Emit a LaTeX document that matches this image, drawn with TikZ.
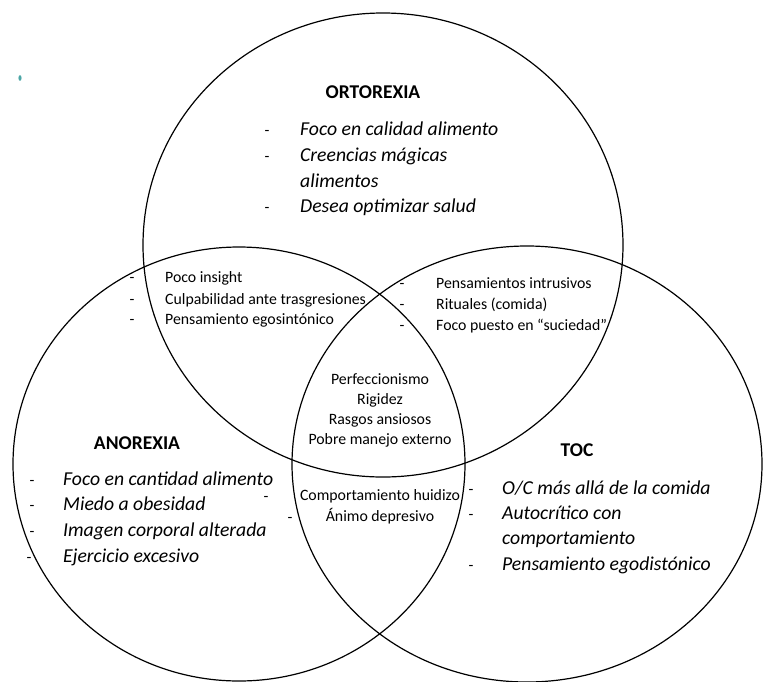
\documentclass[tikz,border=0pt]{standalone}
\usepackage{fontspec}
\setmainfont{Carlito}
\usetikzlibrary{shapes.geometric}
\begin{document}
\begin{tikzpicture}[x=1pt, y=-1pt,
    conjunto/.style={ellipse, draw, line width=1.2pt, inner sep=0pt},
    titulo/.style={font=\fontsize{19.5}{22}\selectfont\bfseries},
    rasgo/.style={anchor=west, inner sep=0pt, text height=1.5ex, text depth=.3ex, font=\fontsize{19.7}{22}\selectfont\itshape},
    comun/.style={anchor=west, inner sep=0pt, text height=1.5ex, text depth=.3ex, font=\fontsize{15.8}{18}\selectfont},
    guion/.style={inner sep=0pt, font=\fontsize{15.8}{18}\selectfont}]
    \useasboundingbox (0,0) rectangle (763,681);

    % Conjuntos
    \node[conjunto, minimum width=480pt, minimum height=464pt] (orto) at (383,245) {};
    \node[conjunto, minimum width=452pt, minimum height=434pt] (anor) at (239,464) {};
    \node[conjunto, minimum width=470pt, minimum height=436pt] (toc) at (527,464) {};

    % Mancha suelta
    \fill[teal!70] (20,78) ellipse [x radius=1.6pt, y radius=2.8pt];

    % Ortorexia
    \node[titulo] (tOrto) at (373,92) {ORTOREXIA};
    \node[guion] (gO1) at (267,133) {-};
    \node[rasgo] (o1) at (300,133) {Foco en calidad alimento};
    \node[guion] (gO2) at (267,159) {-};
    \node[rasgo] (o2) at (300,159) {Creencias mágicas};
    \node[rasgo] (o3) at (300,185) {alimentos};
    \node[guion] (gO3) at (267,210) {-};
    \node[rasgo] (o4) at (300,210) {Desea optimizar salud};

    % Ortorexia y anorexia
    \node[guion] (gOA1) at (132,280) {-};
    \node[comun] (oa1) at (165,280) {Poco insight};
    \node[guion] (gOA2) at (132,302) {-};
    \node[comun] (oa2) at (165,302) {Culpabilidad ante trasgresiones};
    \node[guion] (gOA3) at (132,322) {-};
    \node[comun] (oa3) at (165,322) {Pensamiento egosintónico};

    % Ortorexia y TOC
    \node[guion] (gOT1) at (402,286) {-};
    \node[comun] (ot1) at (436,286) {Pensamientos intrusivos};
    \node[guion] (gOT2) at (402,307) {-};
    \node[comun] (ot2) at (436,307) {Rituales (comida)};
    \node[guion] (gOT3) at (402,328) {-};
    \node[comun] (ot3) at (436,328) {Foco puesto en “suciedad”};

    % Los tres
    \node[align=center, inner sep=0pt, font=\fontsize{15.8}{20}\selectfont] (centro) at (380,410)
        {Perfeccionismo\\Rigidez\\Rasgos ansiosos\\Pobre manejo externo};

    % Anorexia y TOC
    \node[guion] (gAT1) at (266,499) {-};
    \node[comun, anchor=center] (at1) at (380,498) {Comportamiento huidizo};
    \node[guion] (gAT2) at (290,520) {-};
    \node[comun, anchor=center] (at2) at (380,519) {Ánimo depresivo};

    % Anorexia
    \node[titulo] (tAnor) at (137,443) {ANOREXIA};
    \node[guion] (gA1) at (32,483) {-};
    \node[rasgo] (a1) at (63,483) {Foco en cantidad alimento};
    \node[guion] (gA2) at (32,508) {-};
    \node[rasgo] (a2) at (63,508) {Miedo a obesidad};
    \node[guion] (gA3) at (32,534) {-};
    \node[rasgo] (a3) at (63,534) {Imagen corporal alterada};
    \node[guion] (gA4) at (29,560) {-};
    \node[rasgo] (a4) at (63,560) {Ejercicio excesivo};

    % TOC
    \node[titulo] (tToc) at (577,450) {TOC};
    \node[guion] (gT1) at (471,492) {-};
    \node[rasgo] (t1) at (502,492) {O/C más allá de la comida};
    \node[guion] (gT2) at (471,517) {-};
    \node[rasgo] (t2) at (502,517) {Autocrítico con};
    \node[rasgo] (t3) at (502,542) {comportamiento};
    \node[guion] (gT3) at (471,568) {-};
    \node[rasgo] (t4) at (502,568) {Pensamiento egodistónico};
\end{tikzpicture}
\end{document}
